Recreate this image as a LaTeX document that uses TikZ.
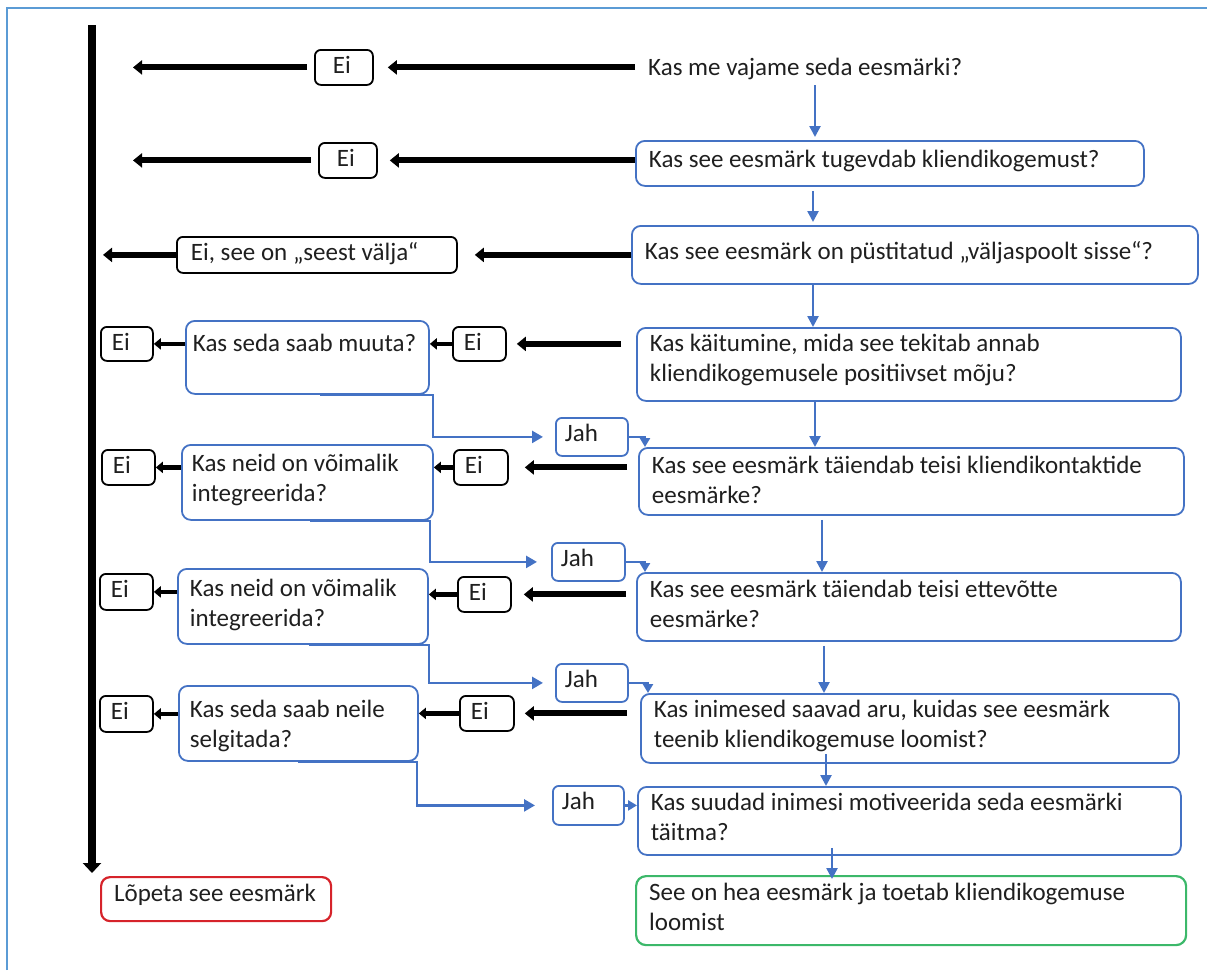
\documentclass[tikz,border=0pt]{standalone}
\usepackage{fontspec}
\setmainfont{Carlito}
\usetikzlibrary{arrows.meta,calc}
\definecolor{qblue}{HTML}{4472C4}
\definecolor{frameblue}{HTML}{5B9BD5}
\definecolor{okgreen}{HTML}{3CB86A}
\definecolor{stopred}{HTML}{D6232A}
\definecolor{txt}{HTML}{1F1F1F}
% \bx[pad]{style}{name}{x1}{y1}{x2}{y2}{top gap}{text}
\newcommand{\bx}[9][13]{%
  \pgfmathsetmacro{\bxw}{#6-#4}%
  \pgfmathsetmacro{\bxh}{#7-#5}%
  \node[#2, anchor=north west, inner sep=0pt, minimum width=\bxw pt, minimum height=\bxh pt] (#3) at (#4,#5)
   {\parbox[c][\bxh pt][t]{\dimexpr\bxw pt-#1pt-#1pt\relax}{\raggedright\vspace*{#8pt}\strut #9\strut}};}
\tikzset{
  qbox/.style={draw=qblue, line width=1.8pt, rounded corners=9pt},
  eibox/.style={draw=black, line width=1.8pt, rounded corners=6pt},
  jahbox/.style={draw=qblue, line width=1.8pt, rounded corners=6pt},
  plain/.style={},
  goodbox/.style={draw=okgreen, line width=2.2pt, rounded corners=10pt},
  stopbox/.style={draw=stopred, line width=2.2pt, rounded corners=9pt},
  noarrow/.style={line width=6pt, -{Triangle[length=9pt,width=14pt]}},
  shortarrow/.style={line width=4.5pt, -{Triangle[length=7pt,width=11pt]}},
  mainline/.style={line width=7.5pt, -{Triangle[length=10pt,width=18pt]}},
  bluearrow/.style={draw=qblue, line width=2.5pt, -{Triangle[length=11pt,width=11pt]}},
  bluebend/.style={draw=qblue, line width=2.5pt, -{Triangle[length=11pt,width=12pt]}},
  bluesmall/.style={draw=qblue, line width=2.5pt, -{Triangle[length=9pt,width=10pt]}},
  every node/.append style={font=\fontsize{25}{30}\selectfont, text=txt},
}
\begin{document}
\begin{tikzpicture}[x=1pt,y=-1pt]
\useasboundingbox (0,0) rectangle (1207,970);
% outer frame
\draw[frameblue, line width=2.5pt] (7,970) -- (7,8) -- (1207,8);

% main questions
\bx{plain}{q1}{635}{51}{1143}{85}{3}{Kas me vajame seda eesmärki?}
\bx{qbox}{q2}{635}{140}{1143}{185}{6}{Kas see eesmärk tugevdab kliendikogemust?}
\bx{qbox}{q3}{631}{225}{1197}{283}{13}{Kas see eesmärk on püstitatud „väljaspoolt sisse“?}
\bx{qbox}{q4}{636}{327}{1180}{400}{3}{Kas käitumine, mida see tekitab annab\\kliendikogemusele positiivset mõju?}
\bx{qbox}{q5}{638}{447}{1183}{514}{5}{Kas see eesmärk täiendab teisi kliendikontaktide\\eesmärke?}
\bx{qbox}{q6}{636}{572}{1180}{640}{4}{Kas see eesmärk täiendab teisi ettevõtte\\eesmärke?}
\bx{qbox}{q7}{640}{693}{1178}{762}{3}{Kas inimesed saavad aru, kuidas see eesmärk\\teenib kliendikogemuse loomist?}
\bx{qbox}{q8}{637}{786}{1180}{854}{3}{Kas suudad inimesi motiveerida seda eesmärki\\täitma?}
\bx{goodbox}{good}{635}{875}{1185}{944}{3}{See on hea eesmärk ja toetab kliendikogemuse\\loomist}
\bx{stopbox}{stop}{100}{876}{330}{920}{3}{Lõpeta see eesmärk}

% right-hand Ei boxes
\bx[18]{eibox}{e1}{314}{49}{372}{84}{3}{Ei}
\bx[18]{eibox}{e2}{318}{142}{376}{177}{3}{Ei}
\bx[14]{eibox}{e3}{176}{236}{456}{272}{3}{Ei, see on „seest välja“}
\bx[11]{eibox}{e4}{452}{326}{505}{360}{3}{Ei}
\bx[11]{eibox}{e5}{453}{449}{507}{484}{3}{Ei}
\bx[11]{eibox}{e6}{457}{576}{510}{611}{3}{Ei}
\bx[11]{eibox}{e7}{459}{695}{513}{730}{3}{Ei}

% left-hand question boxes
\bx[7]{qbox}{l4}{185}{320}{428}{393}{10}{Kas seda saab muuta?}
\bx[10]{qbox}{l5}{181}{444}{432}{519}{6}{Kas neid on võimalik\\integreerida?}
\bx[12]{qbox}{l6}{177}{568}{427}{643}{7}{Kas neid on võimalik\\integreerida?}
\bx[11]{qbox}{l7}{178}{685}{417}{760}{11}{Kas seda saab neile\\selgitada?}

% left-most Ei boxes
\bx[11]{eibox}{f4}{100}{326}{152}{360}{3}{Ei}
\bx[11]{eibox}{f5}{101}{449}{154}{484}{3}{Ei}
\bx[11]{eibox}{f6}{99}{573}{152}{609}{3}{Ei}
\bx[11]{eibox}{f7}{99}{695}{152}{731}{3}{Ei}

% Jah boxes
\bx[9]{jahbox}{j4}{555}{417}{627}{455}{3}{Jah}
\bx[9]{jahbox}{j5}{551}{542}{624}{580}{3}{Jah}
\bx[9]{jahbox}{j6}{555}{663}{627}{701}{3}{Jah}
\bx[9]{jahbox}{j7}{552}{785}{623}{824}{3}{Jah}

% main vertical line
\coordinate (mtop) at (92,25);
\coordinate (mbot) at (92,873);
\draw[mainline] (mtop) -- (mbot);

% black "Ei" arrows
\draw[noarrow, shorten >=14pt] (e1.east -| q1.west) -- (e1.east);
\draw[noarrow, shorten <=7pt, shorten >=41pt] (e1.west) -- (e1.west -| mtop);
\draw[noarrow, shorten >=12pt] (e2.east -| q2.west) -- (e2.east);
\draw[noarrow, shorten <=7pt, shorten >=41pt] (e2.west) -- (e2.west -| mtop);
\draw[noarrow, shorten >=17pt] (e3.east -| q3.west) -- (e3.east);
\draw[noarrow, shorten >=11pt] (e3.west) -- (e3.west -| mtop);

\draw[noarrow, shorten <=15pt, shorten >=10pt] (e4.east -| q4.west) -- (e4.east);
\draw[noarrow, shorten <=11pt, shorten >=16pt] (e5.east -| q5.west) -- (e5.east);
\draw[noarrow, shorten <=10pt, shorten >=12pt] (e6.east -| q6.west) -- (e6.east);
\draw[noarrow, shorten <=13pt, shorten >=10pt] (e7.east -| q7.west) -- (e7.east);

\draw[shortarrow] (e4.west) -- (e4.west -| l4.east);
\draw[shortarrow] (e5.west) -- (e5.west -| l5.east);
\draw[shortarrow] (e6.west) -- (e6.west -| l6.east);
\draw[shortarrow] (e7.west) -- (e7.west -| l7.east);

\draw[shortarrow] (f4.east -| l4.west) -- (f4.east);
\draw[shortarrow] (f5.east -| l5.west) -- (f5.east);
\draw[shortarrow] (f6.east -| l6.west) -- (f6.east);
\draw[shortarrow] (f7.east -| l7.west) -- (f7.east);

% blue vertical arrows
\coordinate (v1) at (815,0);
\coordinate (v2) at (813,0);
\coordinate (v3) at (813,0);
\coordinate (v4) at (815,0);
\coordinate (v5) at (822,0);
\coordinate (v6) at (824,0);
\coordinate (v7) at (826,0);
\coordinate (v8) at (832,0);
\draw[bluearrow, shorten >=3pt] (q1.south -| v1) -- (q2.north -| v1);
\draw[bluearrow, shorten <=4pt, shorten >=3pt] (q2.south -| v2) -- (q3.north -| v2);
\draw[bluearrow] (q3.south -| v3) -- (q4.north -| v3);
\draw[bluearrow] (q4.south -| v4) -- (q5.north -| v4);
\draw[bluearrow, shorten <=4pt] (q5.south -| v5) -- (q6.north -| v5);
\draw[bluearrow, shorten <=4pt] (q6.south -| v6) -- (q7.north -| v6);
\draw[bluearrow] ($(q7.south -| v7)+(0,-10)$) -- (q8.north -| v7);
\draw[bluearrow] ($(q8.south -| v8)+(0,-8)$) -- ($(good.north -| v8)+(0,4)$);

% blue "Jah" connectors
\coordinate (s4) at (320,0);
\coordinate (s5) at (310,0);
\coordinate (s6) at (309,0);
\coordinate (s7) at (298,0);
\draw[bluebend, shorten >=12pt] (l4.south -| s4) -- ($(l4.south east)+(3,0)$) |- (j4.west);
\draw[bluebend, shorten >=14pt] (l5.south -| s5) -- ($(l5.south east)+(-4,0)$) |- (j5.west);
\draw[bluebend, shorten >=12pt] (l6.south -| s6) -- ($(l6.south east)+(0,0)$) |- (j6.west);
\draw[bluebend, shorten >=17pt] (l7.south -| s7) -- ($(l7.south east)+(-2,0)$) |- (j7.west);

\draw[bluesmall] (j4.east) -| ($(q5.north west)+(7,0)$);
\draw[bluesmall] (j5.east) -| ($(q6.north west)+(9,0)$);
\draw[bluesmall] (j6.east) -| ($(q7.north west)+(8,0)$);
\draw[bluesmall] (j7.east) -- (j7.east -| q8.west);
\end{tikzpicture}
\end{document}
